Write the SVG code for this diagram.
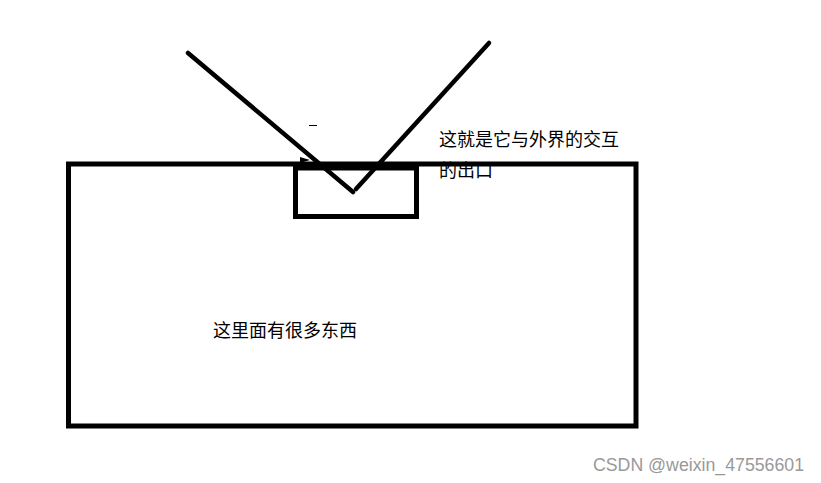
<svg xmlns="http://www.w3.org/2000/svg" width="821" height="483" viewBox="0 0 821 483">
<style>
.box{fill:none;stroke:#000;stroke-width:5}
.ln{stroke:#000;stroke-width:4.5;stroke-linecap:round;fill:none}
.t{font-family:"Noto Sans CJK SC","Liberation Sans",sans-serif;font-size:18px;fill:#000}
.wm{font-family:"Liberation Sans",Arial,sans-serif;font-size:17.5px;fill:#999}
</style>
<rect width="821" height="483" fill="#fff"/>
<g id="container">
<rect class="box" x="68.5" y="164" width="567.5" height="262"/>
</g>
<g id="port">
<rect class="box" x="295.5" y="168" width="121" height="48.5"/>
</g>
<g id="connectors">
<line class="ln" x1="188" y1="53" x2="353" y2="192"/>
<line class="ln" x1="489" y1="43" x2="356" y2="189"/>
<polygon points="300,157 310,160 300,163" fill="#000"/>
<line x1="309" y1="125.5" x2="317" y2="125.5" stroke="#000" stroke-width="1"/>
</g>
<g id="labels">
<text class="t" x="439" y="146">这就是它与外界的交互</text>
<text class="t" x="439" y="177">的出口</text>
<text class="t" x="213" y="337">这里面有很多东西</text>
<text class="wm" x="593" y="471" textLength="211" lengthAdjust="spacingAndGlyphs">CSDN @weixin_47556601</text>
</g>
</svg>
